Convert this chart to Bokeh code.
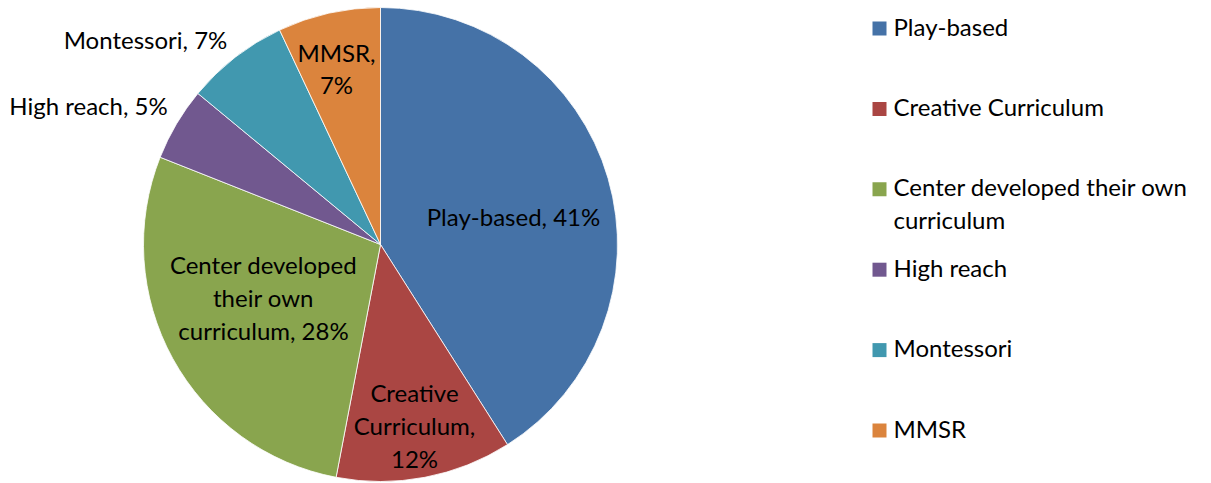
import math
from bokeh.plotting import figure
from bokeh.models import Range1d, ColumnDataSource
from bokeh.core.properties import value
from bokeh.embed import file_html
from bokeh.resources import INLINE

# ---- data ----
categories = ["Play-based", "Creative Curriculum", "Center developed their own curriculum",
              "High reach", "Montessori", "MMSR"]
shares = [41, 12, 28, 5, 7, 7]
pie_labels = ["Play-based, 41%", "Creative\nCurriculum,\n12%", "Center developed\ntheir own\ncurriculum, 28%",
              "High reach, 5%", "Montessori, 7%", "MMSR,\n7%"]
legend_labels = ["Play-based", "Creative Curriculum", "Center developed their own\ncurriculum",
                 "High reach", "Montessori", "MMSR"]
colors = ["#4572A7", "#AA4643", "#89A54E", "#71588F", "#4198AF", "#DB843D"]

W, H = 1211, 483
FONT = "Lato"
FS = "24px"
LH = 1.13

# layout (pixel space, y measured from top)
cx, cy, R = 380, 244, 237
label_px = [(513, 216), (414, 425), (263, 297), (88, 105), (145, 39), (336, 68)]
leg_x_sq, leg_x_txt, leg_y0, leg_dy, sq = 879, 893, 28, 80.4, 14

def fy(y):
    return H - y

total = float(sum(shares))
start, end = [], []
cum = 0.0
for v in shares:
    a0 = math.pi / 2 - 2 * math.pi * (cum + v) / total
    a1 = math.pi / 2 - 2 * math.pi * cum / total
    start.append(a0)
    end.append(a1)
    cum += v

p = figure(width=W, height=H, x_range=Range1d(0, W), y_range=Range1d(0, H),
           output_backend="svg", toolbar_location=None, min_border=0)
p.axis.visible = False
p.grid.visible = False
p.outline_line_color = None
p.background_fill_color = "white"

src = ColumnDataSource(dict(start=start, end=end, color=colors, cat=categories))
p.wedge(x=cx, y=fy(cy), radius=R, start_angle="start", end_angle="end",
        direction="anticlock", fill_color="color", line_color="white",
        line_width=0.8, source=src)

lab = ColumnDataSource(dict(x=[q[0] for q in label_px], y=[fy(q[1]) for q in label_px], t=pie_labels))
p.text(x="x", y="y", text="t", source=lab, text_font=value(FONT), text_font_size=FS,
       text_color="#000000", text_align="center", text_baseline="middle",
       text_line_height=LH)

ly = [fy(leg_y0 + i * leg_dy) for i in range(len(categories))]
p.rect(x=[leg_x_sq] * len(categories), y=ly, width=sq, height=sq, fill_color=colors, line_color=None)
p.text(x=[leg_x_txt] * len(categories), y=[v + 17 for v in ly], text=legend_labels,
       text_font=value(FONT), text_font_size=FS, text_color="#000000",
       text_align="left", text_baseline="top", text_line_height=LH)

open("out.html", "w").write(file_html(p, INLINE))
